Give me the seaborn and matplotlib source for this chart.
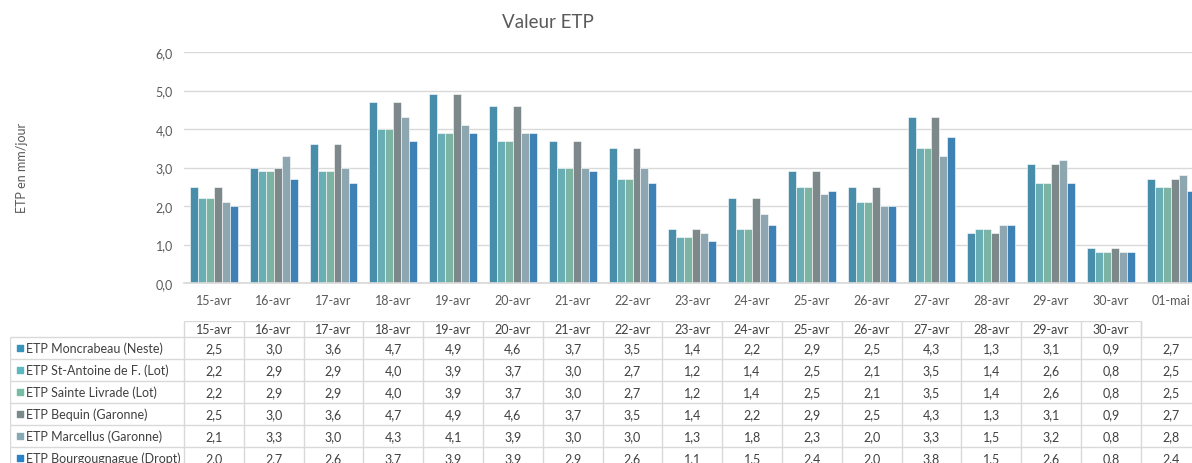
import matplotlib
matplotlib.use("Agg")
import matplotlib.pyplot as plt
import numpy as np
import pandas as pd
import seaborn as sns

dates = ['15-avr', '16-avr', '17-avr', '18-avr', '19-avr', '20-avr', '21-avr', '22-avr',
         '23-avr', '24-avr', '25-avr', '26-avr', '27-avr', '28-avr', '29-avr', '30-avr', '01-mai']

stations = ['ETP Moncrabeau (Neste)', 'ETP St-Antoine de F. (Lot)', 'ETP Sainte Livrade (Lot)',
            'ETP Bequin (Garonne)', 'ETP Marcellus (Garonne)', 'ETP Bourgougnague (Dropt)']

moncrabeau = [2.5, 3.0, 3.6, 4.7, 4.9, 4.6, 3.7, 3.5, 1.4, 2.2, 2.9, 2.5, 4.3, 1.3, 3.1, 0.9, 2.7]
st_antoine = [2.2, 2.9, 2.9, 4.0, 3.9, 3.7, 3.0, 2.7, 1.2, 1.4, 2.5, 2.1, 3.5, 1.4, 2.6, 0.8, 2.5]
sainte_livrade = [2.2, 2.9, 2.9, 4.0, 3.9, 3.7, 3.0, 2.7, 1.2, 1.4, 2.5, 2.1, 3.5, 1.4, 2.6, 0.8, 2.5]
bequin = [2.5, 3.0, 3.6, 4.7, 4.9, 4.6, 3.7, 3.5, 1.4, 2.2, 2.9, 2.5, 4.3, 1.3, 3.1, 0.9, 2.7]
marcellus = [2.1, 3.3, 3.0, 4.3, 4.1, 3.9, 3.0, 3.0, 1.3, 1.8, 2.3, 2.0, 3.3, 1.5, 3.2, 0.8, 2.8]
bourgougnague = [2.0, 2.7, 2.6, 3.7, 3.9, 3.9, 2.9, 2.6, 1.1, 1.5, 2.4, 2.0, 3.8, 1.5, 2.6, 0.8, 2.4]

colors = ['#3795BC', '#5CB8C1', '#73BCA6', '#7A8A8B', '#87A9B5', '#2A83C8']

series = [moncrabeau, st_antoine, sainte_livrade, bequin, marcellus, bourgougnague]
rows = []
for name, vals in zip(stations, series):
    for d, v in zip(dates, vals):
        rows.append({'date': d, 'station': name, 'val': v})
df = pd.DataFrame(rows)

sns.set_theme(style='white')
plt.rcParams['font.family'] = ['Lato', 'DejaVu Sans']

W, H = 1192, 464
fig = plt.figure(figsize=(W / 100, H / 100), dpi=100)

# chart area runs a bit past the right edge, like the cropped screenshot
left_px, top_px, bot_px = 184, 53, 284
right_px = left_px + 59.8 * len(dates)
ax = fig.add_axes([left_px / W, 1 - bot_px / H, (right_px - left_px) / W, (bot_px - top_px) / H])

sns.barplot(data=df, x='date', y='val', hue='station', order=dates, hue_order=stations,
            palette=colors, ax=ax, width=0.8, gap=0, edgecolor='white', linewidth=0.4,
            legend=False, errorbar=None)

ax.set_xlim(-0.5, len(dates) - 0.5)
ax.set_ylim(0, 6)
ax.set_yticks(np.arange(0, 7, 1))
ax.set_yticklabels([f'{v:.1f}'.replace('.', ',') for v in np.arange(0, 7, 1)])
ax.yaxis.grid(True, color='#D9D9D9', linewidth=1)
ax.set_axisbelow(True)
for s in ['top', 'right', 'left']:
    ax.spines[s].set_visible(False)
ax.spines['bottom'].set_color('#D9D9D9')
ax.tick_params(axis='both', length=0, labelsize=9, colors='#595959', pad=8)
ax.set_xlabel('')
ax.set_ylabel('')

fig.text(22 / W, 1 - 168 / H, 'ETP en mm/jour', rotation=90, ha='center', va='center',
         fontsize=9, color='#595959')
fig.text(548 / W, 1 - 22 / H, 'Valeur ETP', ha='center', va='center', fontsize=13.5, color='#595959')

# data table under the chart
tab_left, tab_top, tab_bot = 10, 322, 470
unit = (right_px - left_px) / len(dates)
x0 = -0.5 - (left_px - tab_left) / unit
tax = fig.add_axes([tab_left / W, 1 - tab_bot / H, (right_px - tab_left) / W, (tab_bot - tab_top) / H])
hdr = 16 / 22
n_rows = len(stations)
tax.set_xlim(x0, len(dates) - 0.5)
tax.set_ylim(hdr + n_rows, 0)
tax.axis('off')

line_kw = dict(color='#D9D9D9', linewidth=1)
# header row (last column header is blank)
tax.hlines(0, -0.5, len(dates) - 1.5, **line_kw)
tax.hlines(hdr, x0, len(dates) - 0.5, **line_kw)
for i in range(len(dates)):
    tax.vlines(i - 0.5, 0, hdr + n_rows, **line_kw)
    if i < len(dates) - 1:
        tax.text(i, hdr / 2, dates[i], ha='center', va='center', fontsize=9, color='#404040')
tax.vlines(len(dates) - 1.5, 0, hdr, **line_kw)
tax.vlines(x0, hdr, hdr + n_rows, **line_kw)

for r, (name, vals, c) in enumerate(zip(stations, series, colors)):
    yc = hdr + r + 0.5
    tax.hlines(hdr + r + 1, x0, len(dates) - 0.5, **line_kw)
    tax.scatter([x0 + 0.16], [yc], marker='s', s=24, color=c)
    tax.text(x0 + 0.27, yc, name, ha='left', va='center', fontsize=9, color='#404040')
    for i, v in enumerate(vals):
        tax.text(i, yc, f'{v:.1f}'.replace('.', ','), ha='center', va='center',
                 fontsize=9, color='#404040')

fig.savefig('out.png', dpi=100)
